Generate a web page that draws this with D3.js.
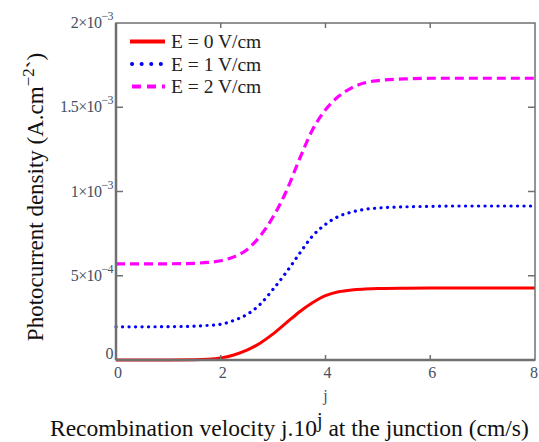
<!DOCTYPE html>
<html>
<head>
<meta charset="utf-8">
<script src="https://cdn.jsdelivr.net/npm/d3@7"></script>
<style>
  body { margin: 0; background: #fff; }
  svg { display: block; font-family: "Liberation Serif", "DejaVu Serif", serif; }
</style>
</head>
<body>
<svg width="539" height="442"></svg>
<script>
"use strict";

// recombination velocity exponent j
const jValues = [0, 0.5, 1, 1.5, 1.75, 2, 2.25, 2.5, 2.75, 3, 3.25, 3.5, 3.75, 4, 4.25, 4.5, 4.75, 5, 5.5, 6, 6.5, 7, 7.5, 8];
// photocurrent density, in units of 1e-3 A/cm^2
const currentE0 = [0, 0, 0, 0.001, 0.004, 0.012, 0.03, 0.058, 0.10, 0.155, 0.22, 0.285, 0.34, 0.382, 0.405, 0.416, 0.421, 0.424, 0.426, 0.427, 0.427, 0.427, 0.427, 0.427];
const currentE1 = [0.197, 0.197, 0.198, 0.201, 0.205, 0.212, 0.235, 0.27, 0.33, 0.42, 0.52, 0.63, 0.735, 0.805, 0.852, 0.878, 0.894, 0.902, 0.909, 0.912, 0.914, 0.914, 0.914, 0.914];
const currentE2 = [0.570, 0.570, 0.571, 0.574, 0.579, 0.589, 0.612, 0.655, 0.735, 0.85, 1.0, 1.19, 1.365, 1.485, 1.565, 1.615, 1.645, 1.658, 1.668, 1.672, 1.672, 1.672, 1.672, 1.672];
const seriesNames = ["E = 0 V/cm", "E = 1 V/cm", "E = 2 V/cm"];
const xTicks = [0, 2, 4, 6, 8];
const yTicks = [0, 0.5, 1, 1.5, 2];
const yTickMantissa = ["0", "5\u00d710", "1\u00d710", "1.5\u00d710", "2\u00d710"];
const yTickExponent = ["", "\u22124", "\u22123", "\u22123", "\u22123"];

const svg = d3.select("svg"),
    margin = {left: 116, right: 4, top: 23, bottom: 82},
    width = 539 - margin.left - margin.right,
    height = 442 - margin.top - margin.bottom;

const x = d3.scaleLinear().domain([0, 8]).range([margin.left, margin.left + width]);
const y = d3.scaleLinear().domain([0, 2]).range([margin.top + height, margin.top]);

const series = [
    {name: seriesNames[0], values: currentE0, color: "#ff0000", dash: null, legendDash: null, width: 3, cap: "butt"},
    {name: seriesNames[1], values: currentE1, color: "#0000ff", dash: "0.1,6.4", legendDash: "0.1,9.5", width: 3.2, cap: "round"},
    {name: seriesNames[2], values: currentE2, color: "#ff00ff", dash: "9,5", legendDash: "9,6", width: 3.2, cap: "butt"}
];

const line = d3.line()
    .x((d, i) => x(jValues[i]))
    .y(d => y(d))
    .curve(d3.curveMonotoneX);

// curves
svg.append("g").selectAll("path")
    .data(series)
    .enter().append("path")
    .attr("d", d => line(d.values))
    .attr("fill", "none")
    .attr("stroke", d => d.color)
    .attr("stroke-width", d => d.width)
    .attr("stroke-linecap", d => d.cap)
    .attr("stroke-dasharray", d => d.dash);

// frame
const frame = svg.append("g").attr("stroke", "#707070").attr("fill", "none");
frame.append("rect")
    .attr("x", margin.left).attr("y", margin.top)
    .attr("width", width).attr("height", height)
    .attr("stroke-width", 1.5);
frame.append("line")
    .attr("x1", margin.left).attr("x2", margin.left)
    .attr("y1", margin.top).attr("y2", margin.top + height)
    .attr("stroke-width", 2.5);
frame.append("line")
    .attr("x1", margin.left).attr("x2", margin.left + width)
    .attr("y1", margin.top + height).attr("y2", margin.top + height)
    .attr("stroke-width", 2.5);

// inward ticks on all four sides
const inner = xTicks.slice(1, -1);
frame.selectAll(".xb").data(inner).enter().append("line")
    .attr("x1", d => x(d)).attr("x2", d => x(d))
    .attr("y1", margin.top + height).attr("y2", margin.top + height - 5)
    .attr("stroke-width", 1.5);
frame.selectAll(".xt").data(inner).enter().append("line")
    .attr("x1", d => x(d)).attr("x2", d => x(d))
    .attr("y1", margin.top).attr("y2", margin.top + 5)
    .attr("stroke-width", 1.5);
const innerY = yTicks.slice(1, -1);
frame.selectAll(".yl").data(innerY).enter().append("line")
    .attr("x1", margin.left).attr("x2", margin.left + 7)
    .attr("y1", d => y(d)).attr("y2", d => y(d))
    .attr("stroke-width", 1.5);
frame.selectAll(".yr").data(innerY).enter().append("line")
    .attr("x1", margin.left + width).attr("x2", margin.left + width - 7)
    .attr("y1", d => y(d)).attr("y2", d => y(d))
    .attr("stroke-width", 1.5);

// tick labels; the last one is kept inside the window
const tickColor = "#46505e";
const lastTick = xTicks[xTicks.length - 1];
svg.append("g").selectAll("text")
    .data(xTicks)
    .enter().append("text")
    .attr("x", d => d === lastTick ? 538 : x(d) + 2)
    .attr("y", margin.top + height + 18)
    .attr("text-anchor", d => d === lastTick ? "end" : "middle")
    .attr("font-size", 16)
    .attr("fill", tickColor)
    .text(d => d);

const yLab = svg.append("g").selectAll("text")
    .data(yTicks)
    .enter().append("text")
    .attr("x", margin.left - 3)
    .attr("y", d => d === 0 ? y(d) - 1 : y(d) + 5)
    .attr("text-anchor", "end")
    .attr("font-size", 16)
    .attr("letter-spacing", -0.6)
    .attr("fill", tickColor);
yLab.append("tspan").text((d, i) => yTickMantissa[i]);
yLab.append("tspan")
    .attr("dy", -8)
    .attr("font-size", 12)
    .text((d, i) => yTickExponent[i]);

// legend
const legend = svg.append("g")
    .selectAll("g")
    .data(series)
    .enter().append("g")
    .attr("transform", (d, i) => `translate(130,${41.5 + i * 22.5})`);
legend.append("line")
    .attr("x1", d => d.dash === null ? 0 : 2).attr("x2", 35)
    .attr("stroke", d => d.color)
    .attr("stroke-width", d => d.width + 0.8)
    .attr("stroke-linecap", d => d.cap)
    .attr("stroke-dasharray", d => d.legendDash);
legend.append("text")
    .attr("x", 41)
    .attr("y", 6.5)
    .attr("font-size", 19.5)
    .attr("fill", "#222")
    .text(d => d.name);

// axis titles
svg.append("text")
    .attr("x", x(4))
    .attr("y", 401)
    .attr("text-anchor", "middle")
    .attr("font-size", 16)
    .attr("fill", tickColor)
    .text("j");

const xTitle = svg.append("text")
    .attr("x", 50)
    .attr("y", 436)
    .attr("font-size", 23.5)
    .attr("fill", "#111");
xTitle.append("tspan").text("Recombination velocity j.10");
xTitle.append("tspan").attr("dy", -9).attr("font-size", 20).text("j");
xTitle.append("tspan").attr("dy", 9).text(" at the junction  (cm/s)");

const yTitle = svg.append("text")
    .attr("transform", "translate(43,197) rotate(-90)")
    .attr("text-anchor", "middle")
    .attr("font-size", 23)
    .attr("fill", "#111");
yTitle.append("tspan").text("Photocurrent density (A.cm");
yTitle.append("tspan").attr("dy", -9).attr("font-size", 17).text("\u22122");
yTitle.append("tspan").attr("dy", 9).text("`)");
</script>
</body>
</html>
